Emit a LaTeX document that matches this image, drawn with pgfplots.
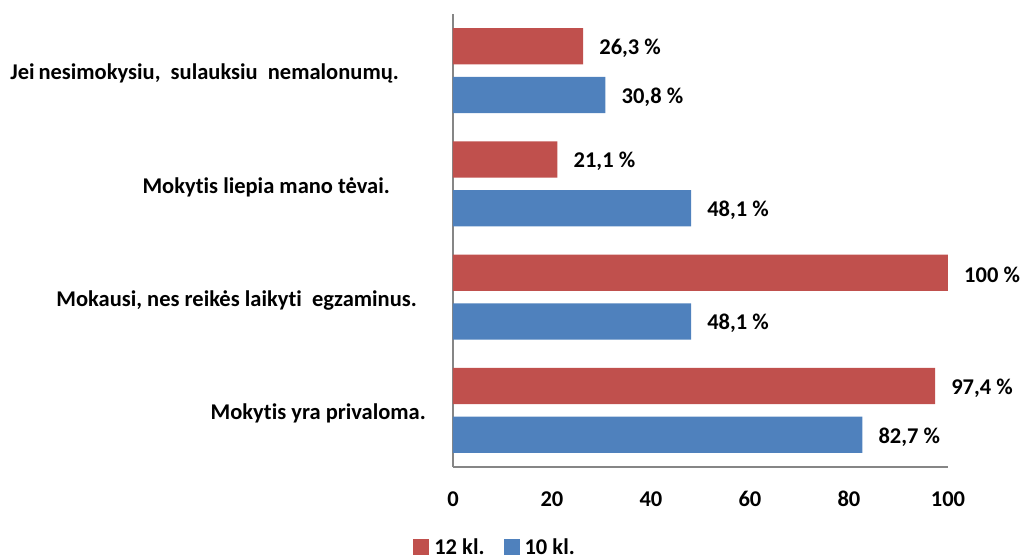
\documentclass[border=0pt]{standalone}
\usepackage{pgfplots}
\pgfplotsset{compat=1.18}
\usepackage{fontspec}
\setmainfont{Carlito}[Ligatures={NoCommon}]
\definecolor{red12}{HTML}{C0504D}
\definecolor{blue10}{HTML}{4F81BD}
\definecolor{axisgray}{HTML}{868686}
\newcommand{\lbl}{\fontsize{22.5}{26}\selectfont\bfseries}
\begin{document}
\begin{tikzpicture}
\begin{axis}[
  at={(0,0)}, anchor=south west,
  scale only axis, width=495pt, height=453pt,
  xbar, bar width=0.32,
  xmin=0, xmax=100, ymin=-0.5, ymax=3.5,
  xtick={0,20,...,100},
  ytick={0,1,2,3},
  yticklabels={
    {Mokytis yra privaloma.\hspace*{11pt}},
    {Mokausi, nes reikės laikyti\ \ egzaminus.\hspace*{20pt}},
    {Mokytis liepia mano tėvai.\hspace*{47pt}},
    {Jei\,nesimokysiu,\ \ sulauksiu\ \ nemalonumų.\hspace*{38pt}}},
  axis lines*=left,
  axis line style={draw=axisgray, line width=1.5pt},
  major tick length=0pt,
  tick style={draw=none},
  ticklabel style={font=\lbl},
  /pgf/number format/assume math mode=true,
  xticklabel style={anchor=center, yshift=-32pt},
  yticklabel style={anchor=east, inner sep=0pt, xshift=-16pt, yshift=-3pt},
  clip=false,
  nodes near coords,
  point meta=explicit symbolic,
  nodes near coords style={anchor=west, inner sep=0pt, xshift=16pt, yshift=-2pt, font=\lbl, text=black},
  legend columns=2,
  legend style={at={(rel axis cs:0.085,-0.177)}, anchor=center, draw=none,
    font=\lbl,
    /tikz/every odd column/.append style={column sep=3pt},
    /tikz/every even column/.append style={column sep=17pt}},
  legend image code/.code={\fill[#1] (0pt,-8pt) rectangle (16pt,8pt);},
]
\addplot[fill=red12, draw=none, bar shift=0.216] coordinates {
  (97.4,0) [97,4 \%]
  (100,1)  [100 \%]
  (21.1,2) [21,1 \%]
  (26.3,3) [26,3 \%]
};
\addplot[fill=blue10, draw=none, bar shift=-0.216] coordinates {
  (82.7,0) [82,7 \%]
  (48.1,1) [48,1 \%]
  (48.1,2) [48,1 \%]
  (30.8,3) [30,8 \%]
};
\legend{12 kl., 10 kl.}
\end{axis}
\pgfresetboundingbox
\path[use as bounding box] (-453pt,-91pt) rectangle (568pt,467pt);
\end{tikzpicture}
\end{document}
